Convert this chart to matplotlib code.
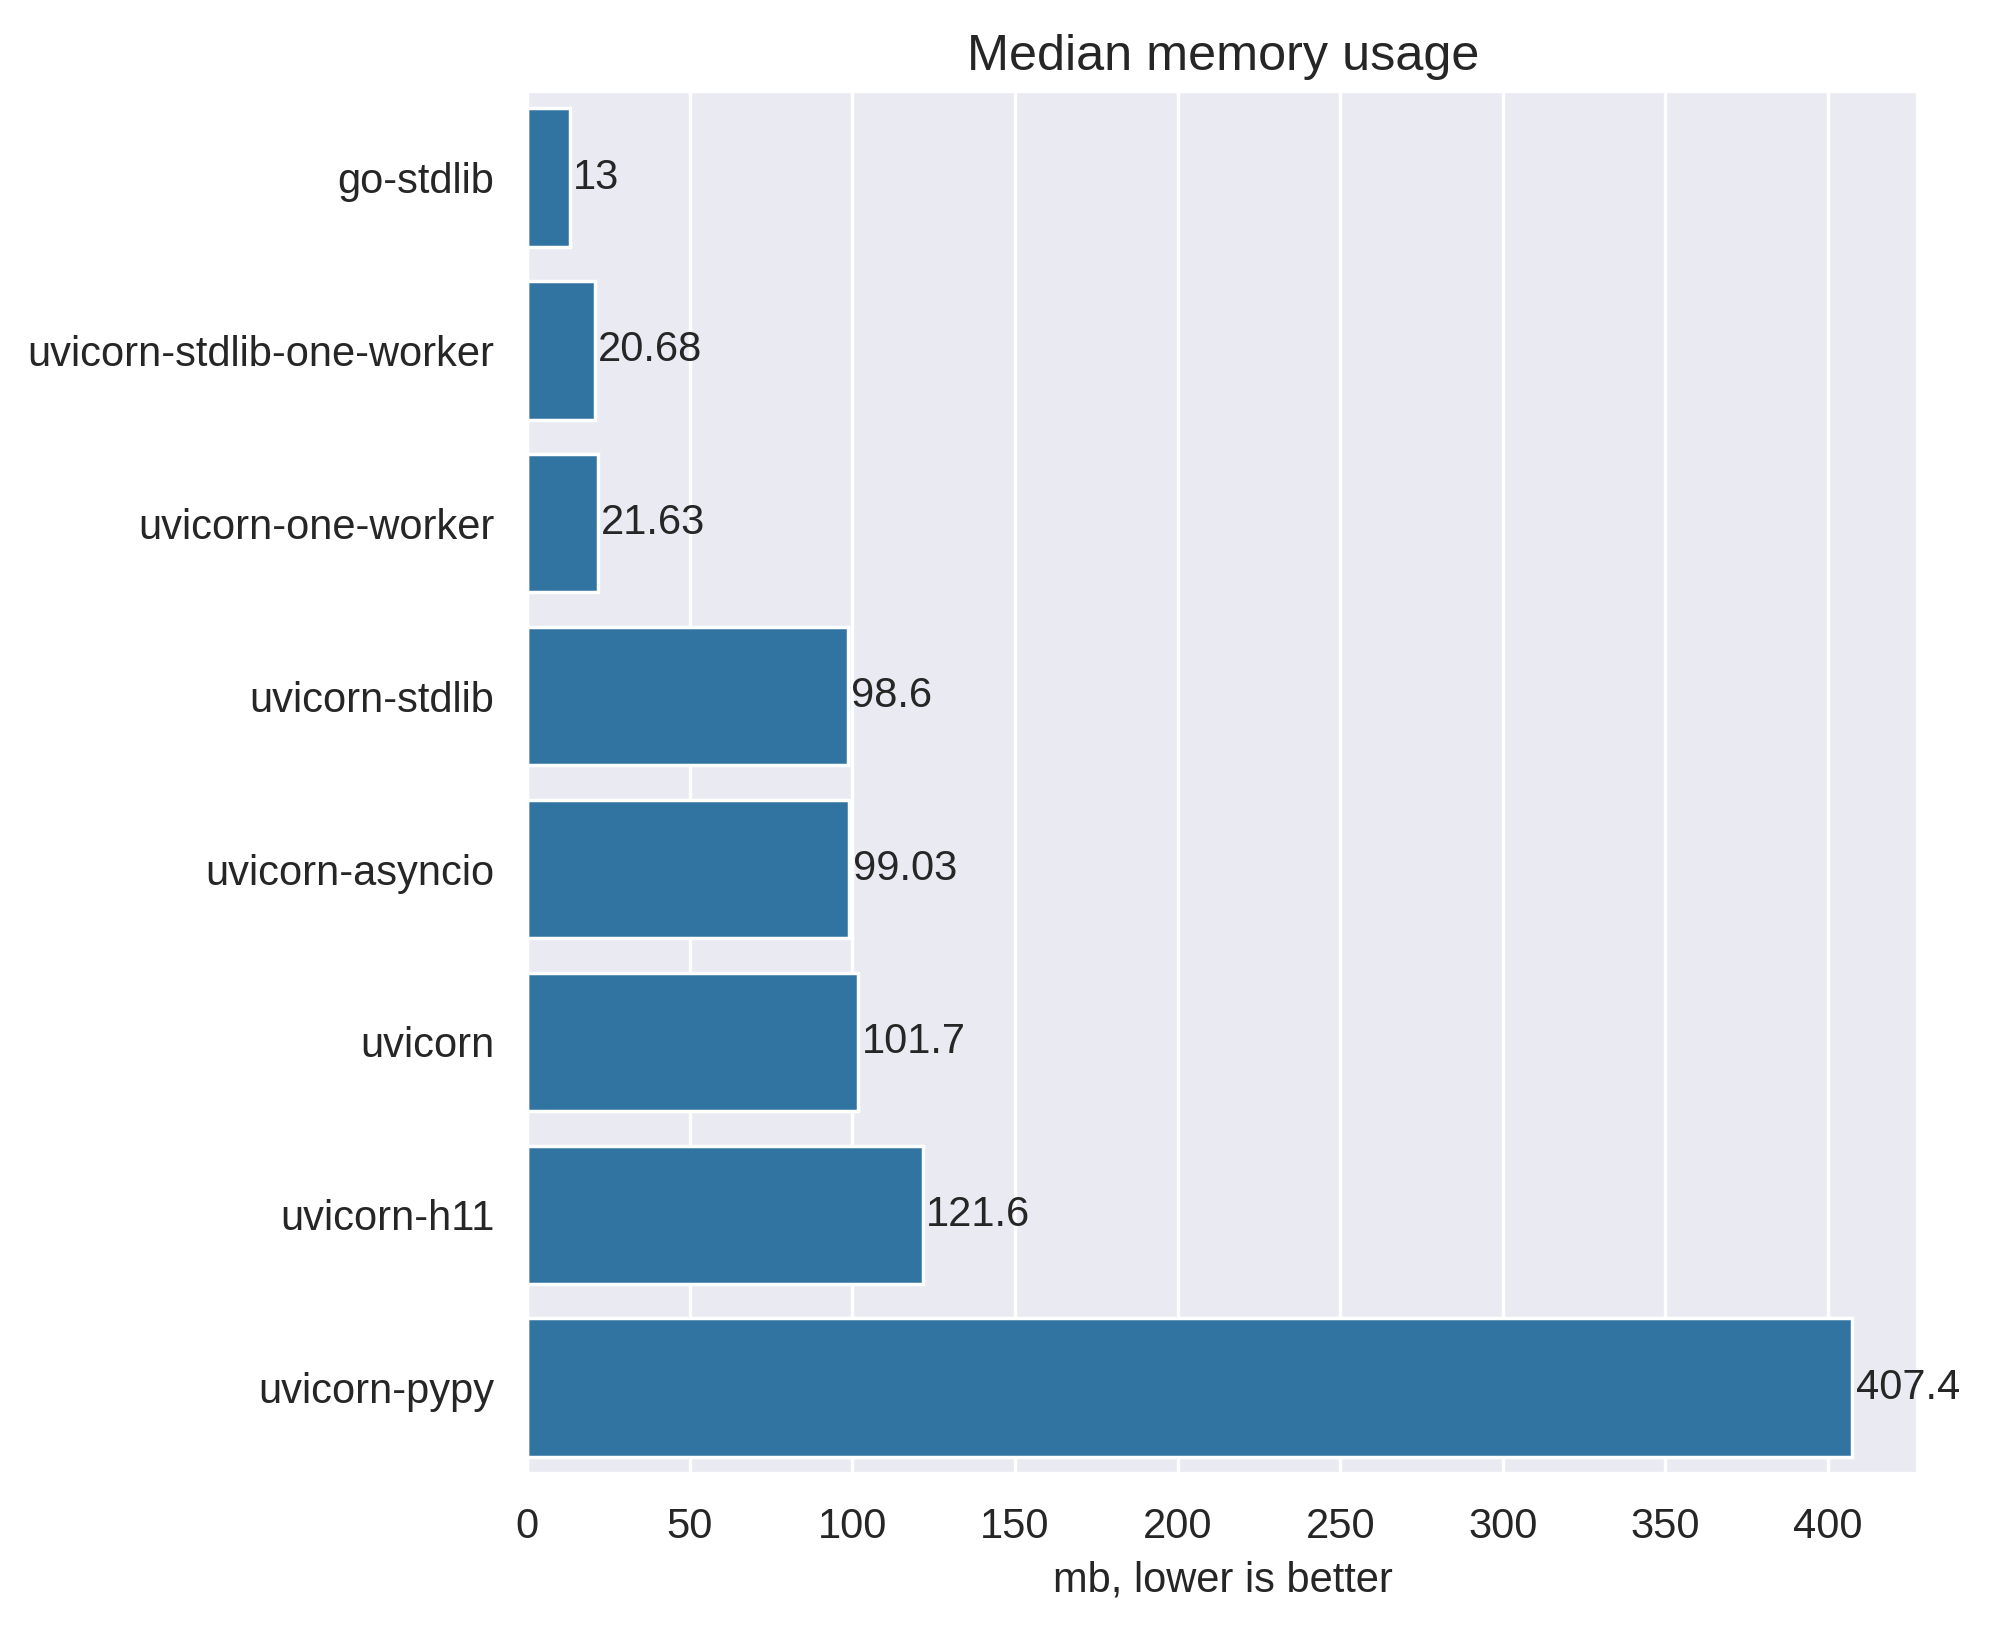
import matplotlib
matplotlib.use('Agg')
import matplotlib.pyplot as plt
import seaborn as sns
import pandas as pd

# Median memory usage per server (mb)
servers = ['go-stdlib', 'uvicorn-stdlib-one-worker', 'uvicorn-one-worker', 'uvicorn-stdlib',
           'uvicorn-asyncio', 'uvicorn', 'uvicorn-h11', 'uvicorn-pypy']
memory = [13, 20.68, 21.63, 98.6, 99.03, 101.7, 121.6, 407.4]

df = pd.DataFrame({'server': servers, 'memory': memory})

sns.set_theme(style='darkgrid')
plt.rcParams['font.family'] = ['Liberation Sans', 'DejaVu Sans']

fig = plt.figure(figsize=(7.968, 6.512), dpi=250)
ax = fig.add_axes([0.2647, 0.0946, 0.6983, 0.8494])
sns.barplot(data=df, x='memory', y='server', color='#1f77b4', saturation=0.75,
            edgecolor='white', linewidth=1, ax=ax)
ax.bar_label(ax.containers[0], labels=[f'{v:g}' for v in memory], fontsize=12, padding=1)
ax.set_title('Median memory usage', fontsize=14.5)
ax.set_xlabel('mb, lower is better', fontsize=12)
ax.set_ylabel('')
ax.tick_params(labelsize=12)

fig.savefig('out.png', dpi=250)
